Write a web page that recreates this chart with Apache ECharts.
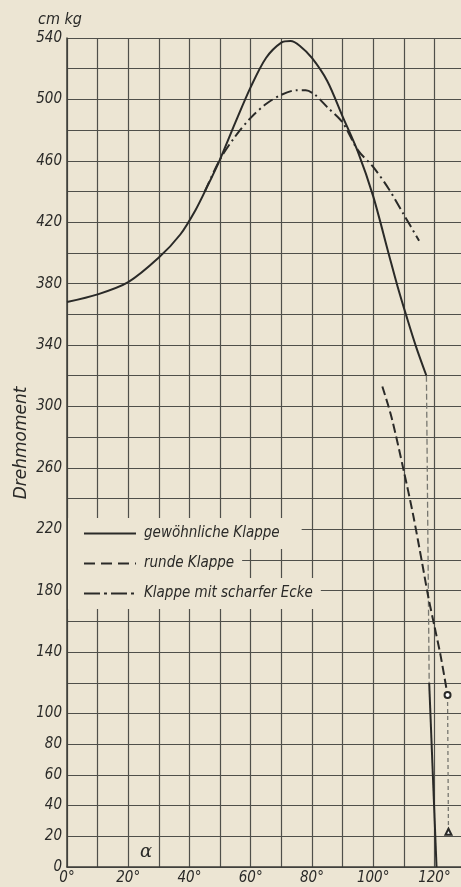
<!DOCTYPE html>
<html>
<head>
<meta charset="utf-8">
<script src="https://cdn.jsdelivr.net/npm/echarts@6/dist/echarts.min.js"></script>
<style>
html, body { margin: 0; padding: 0; background: #ece5d3; overflow: hidden; }
#chart { width: 468px; height: 887px; }
</style>
</head>
<body>
<div id="chart"></div>
<script>
var FONT = '"Liberation Sans Narrow", "DejaVu Sans Condensed", sans-serif';
var PAPER = '#ece5d3';
var INK = '#2a2a28';

// Winkel alpha (Grad) und Drehmoment (cm kg), aus dem Bild abgelesen
// gewöhnliche Klappe
var angleGew = [0, 10, 20, 30, 37, 42, 46, 50, 55, 60, 65, 70, 73, 76, 80, 85, 90, 95, 100, 105, 108, 111, 114, 117.4];
var torqueGew = [368, 373, 381, 397, 412, 428, 444, 461, 485, 508, 527, 537, 538, 535, 527, 512, 489, 466, 437, 400, 378, 358, 339, 320];
var angleGewEnd = [118.3, 120.7];
var torqueGewEnd = [120, 0];
// Sprung (gestrichelte Senkrechte)
var angleSprung = [117.4, 118.3];
var torqueSprung = [320, 120];

// Klappe mit scharfer Ecke
var angleEcke = [45, 50, 55, 60, 65, 70, 75, 78, 81, 85, 90, 95, 100, 105, 110, 115];
var torqueEcke = [440, 461, 476, 488, 497, 503, 506, 506, 503, 495, 485, 467, 456, 442, 425, 408];

// runde Klappe
var angleRund = [103, 106, 110, 113, 116, 118, 120, 122, 124.3];
var torqueRund = [313, 293, 258, 230, 198, 176, 157, 138, 112];
var angleRundEnd = [124.3, 124.6];
var torqueRundEnd = [112, 23];
var symbolsRundEnd = ['emptyCircle', 'emptyTriangle'];

function zip(xs, ys) {
    var out = [];
    for (var i = 0; i < xs.length; i++) {
        out.push([xs[i], ys[i]]);
    }
    return out;
}

function legendRow(name, top, rightPad, dash) {
    return {
        data: [name],
        left: 68,
        top: top,
        padding: [8, rightPad, 8, 15],
        backgroundColor: PAPER,
        itemWidth: 52,
        itemHeight: 14,
        selectedMode: false,
        itemStyle: { opacity: 0, color: 'transparent', borderColor: 'transparent' },
        lineStyle: { type: dash, width: 2, color: INK },
        textStyle: { fontFamily: FONT, fontStyle: 'italic', fontSize: 15, color: INK, padding: [0, 0, 0, 3] }
    };
}

// the plot runs on past the right edge of the page (up to 130°), like the clipped scan
var chart = echarts.init(document.getElementById('chart'), null, { width: 468, height: 887 });

var dropData = zip(angleRundEnd, torqueRundEnd).map(function (p, i) {
    return { value: p, symbol: symbolsRundEnd[i] };
});

var option = {
    backgroundColor: PAPER,
    animation: false,
    grid: { left: 67, right: 1, top: 38, bottom: 20 },
    xAxis: {
        type: 'value',
        min: 0,
        max: 130,
        interval: 10,
        axisLine: { lineStyle: { color: '#3c3c38', width: 1.5 } },
        axisTick: { show: false },
        splitLine: { lineStyle: { color: '#4f4f4a', width: 1.2 } },
        axisLabel: {
            margin: 4,
            fontFamily: FONT, fontStyle: 'italic', fontSize: 15, color: INK,
            formatter: function (v) { return (v % 20 === 0 && v <= 120) ? v + '°' : ''; }
        }
    },
    yAxis: {
        type: 'value',
        min: 0,
        max: 540,
        interval: 20,
        name: 'cm kg',
        nameLocation: 'end',
        nameGap: 10,
        nameTextStyle: { fontFamily: FONT, fontStyle: 'italic', fontSize: 16, color: INK, align: 'center', padding: [0, 14, 0, 0] },
        axisLine: { show: true, lineStyle: { color: '#3c3c38', width: 1.5 } },
        axisTick: { show: false },
        splitLine: { lineStyle: { color: '#4f4f4a', width: 1.2 } },
        axisLabel: {
            margin: 5,
            fontFamily: FONT, fontStyle: 'italic', fontSize: 15, color: INK,
            formatter: function (v) { return (v <= 100 || (v - 100) % 40 === 0) ? v : ''; }
        }
    },
    legend: [
        legendRow('gewöhnliche Klappe', 518, 22, 'solid'),
        legendRow('runde Klappe', 548, 8, [11, 6]),
        legendRow('Klappe mit scharfer Ecke', 578, 8, [16, 4, 3, 4])
    ],
    graphic: [
        {
            type: 'text', x: 22, y: 443, rotation: Math.PI / 2,
            style: { text: 'Drehmoment', font: 'italic 17px "DejaVu Sans", sans-serif', fill: INK, align: 'center', verticalAlign: 'middle' }
        },
        {
            type: 'text', x: 146, y: 852,
            style: { text: 'α', font: 'italic 18px "DejaVu Serif", serif', fill: INK, align: 'center', verticalAlign: 'middle' }
        }
    ],
    series: [
        {
            name: 'gewöhnliche Klappe',
            type: 'line',
            symbol: 'none',
            smooth: 0.3,
            lineStyle: { color: INK, width: 2 },
            data: zip(angleGew, torqueGew),
            z: 3
        },
        {
            name: 'gewöhnliche Klappe',
            type: 'line',
            symbol: 'none',
            lineStyle: { color: INK, width: 2 },
            data: zip(angleGewEnd, torqueGewEnd),
            z: 3
        },
        {
            name: 'Sprung',
            type: 'line',
            symbol: 'none',
            lineStyle: { color: '#777770', width: 1.3, type: [6, 3] },
            data: zip(angleSprung, torqueSprung)
        },
        {
            name: 'Klappe mit scharfer Ecke',
            type: 'line',
            symbol: 'none',
            smooth: 0.3,
            lineStyle: { color: INK, width: 2, type: [11, 4, 2, 4] },
            data: zip(angleEcke, torqueEcke),
            z: 3
        },
        {
            name: 'runde Klappe',
            type: 'line',
            symbol: 'none',
            smooth: 0.3,
            lineStyle: { color: INK, width: 2, type: [9, 4] },
            data: zip(angleRund, torqueRund),
            z: 3
        },
        {
            name: 'runde Klappe Ende',
            type: 'line',
            showSymbol: true,
            symbolSize: 6,
            itemStyle: { color: INK, borderWidth: 1.2 },
            lineStyle: { color: '#777770', width: 1.3, type: [4, 3] },
            data: dropData,
            z: 3
        }
    ]
};

chart.setOption(option);
</script>
</body>
</html>
